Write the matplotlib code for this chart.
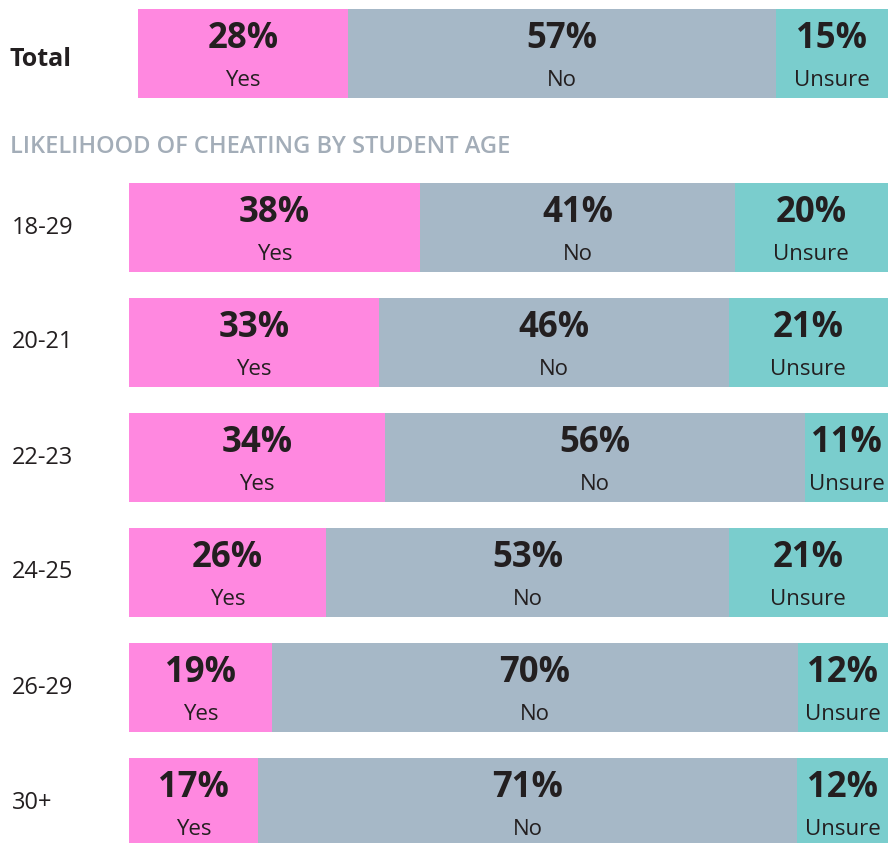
import matplotlib.pyplot as plt
import matplotlib.transforms as mtransforms

plt.rcParams['font.family'] = ['Open Sans', 'DejaVu Sans']

answers = ['Yes', 'No', 'Unsure']
colors = ['#FF88E0', '#A6B8C7', '#7ACDCD']
text_color = '#231F20'

total_values = [28, 57, 15]

age_groups = ['18-29', '20-21', '22-23', '24-25', '26-29', '30+']
yes_values = [38, 33, 34, 26, 19, 17]
no_values = [41, 46, 56, 53, 70, 71]
unsure_values = [20, 21, 11, 21, 12, 12]

W, H = 888, 843
fig = plt.figure(figsize=(W / 100, H / 100), dpi=100)


def px_axes(x0, y0, x1, y1):
    """axes placed by pixel box (top-left origin)"""
    ax = fig.add_axes([x0 / W, 1 - y1 / H, (x1 - x0) / W, (y1 - y0) / H])
    ax.axis('off')
    return ax


def draw_row(ax, y, vals, height):
    """one stacked bar, scaled so the row fills the width"""
    row_sum = sum(vals)
    left = 0
    for v, c, name in zip(vals, colors, answers):
        share = v / row_sum * 100
        ax.barh(y, share, left=left, height=height, color=c, linewidth=0)
        cx = left + share / 2
        ax.text(cx, y - height * 0.16, f'{v}%', ha='center', va='center',
                fontsize=25, fontweight='bold', color=text_color)
        ax.text(cx, y + height * 0.30, name, ha='center', va='center',
                fontsize=16, color=text_color)
        left += share


# total bar
ax_tot = px_axes(138, 9, 888, 98)
draw_row(ax_tot, 0, total_values, 1.0)
ax_tot.set_xlim(0, 100)
ax_tot.set_ylim(0.5, -0.5)
fig.text(10 / W, 1 - 59 / H, 'Total', ha='left', va='center',
         fontsize=18, fontweight='bold', color=text_color)

fig.text(10 / W, 1 - 147 / H, 'LIKELIHOOD OF CHEATING BY STUDENT AGE',
         ha='left', va='center', fontsize=17, fontweight='semibold',
         color='#A3ADB8')

# age bars
step = 115.0
bar_h = 89 / step
ax_age = px_axes(129, 183, 888, 843)
for i, grp in enumerate(age_groups):
    vals = [yes_values[i], no_values[i], unsure_values[i]]
    draw_row(ax_age, i, vals, bar_h)
top = -bar_h / 2
ax_age.set_xlim(0, 100)
ax_age.set_ylim(top + (843 - 183) / step, top)

trans = mtransforms.blended_transform_factory(fig.transFigure, ax_age.transData)
for i, grp in enumerate(age_groups):
    ax_age.text(12 / W, i, grp, transform=trans, ha='left', va='center',
                fontsize=17, color=text_color, clip_on=False)

fig.savefig('out.png', dpi=100)
